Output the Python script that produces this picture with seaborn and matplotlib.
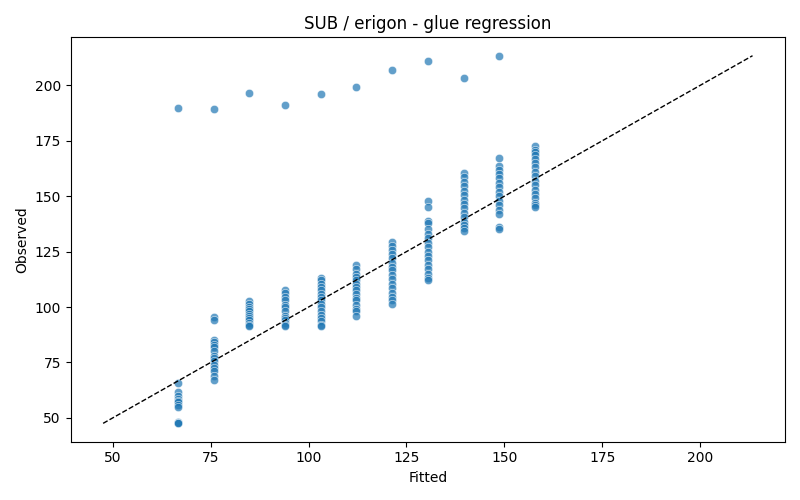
import numpy as np
import pandas as pd
import seaborn as sns
import matplotlib.pyplot as plt

# fitted levels (one column of points per level)
fitted_levels = [66.6, 75.7, 84.8, 94.0, 103.1, 112.2, 121.3, 130.5, 139.6, 148.7, 157.9]

obs_66 = [65.7, 61.5, 60.0, 58.5, 57.5, 57.0, 56.0, 55.0, 48.0, 47.5, 47.7]
obs_75 = [95.3, 94.0, 85.0, 84.0, 83.0, 82.0, 80.0, 78.0, 77.0, 75.5, 74.0, 72.5, 71.0, 69.0, 67.0]
obs_84 = [102.6, 101.5, 100.0, 99.0, 98.0, 97.0, 96.0, 95.0, 94.0, 93.0, 92.0, 91.5]
obs_94 = [107.5, 106.5, 104.5, 103.0, 101.0, 100.0, 98.0, 96.0, 95.0, 94.0, 93.0, 92.0, 91.5]
obs_103 = [113.0, 112.0, 110.5, 109.0, 107.5, 106.0, 104.5, 103.0, 101.5, 100.0, 98.0, 96.5, 95.0, 93.5, 92.0, 91.3]
obs_112 = [118.8, 117.0, 115.0, 113.5, 112.0, 110.5, 109.0, 107.5, 106.0, 104.0, 103.0, 101.0, 99.0, 98.0, 96.0]
obs_121 = [129.5, 127.5, 125.5, 124.0, 122.0, 120.0, 118.0, 116.5, 114.5, 112.5, 110.5, 108.5, 106.5, 104.5, 103.0, 101.5]
obs_130 = [148.0, 145.0, 139.0, 138.0, 135.0, 133.0, 131.0, 129.0, 127.0, 125.0, 123.0, 121.0, 119.0, 117.0, 115.0, 113.0, 112.0]
obs_139 = [160.3, 158.5, 156.5, 154.5, 152.5, 150.5, 148.5, 146.5, 144.5, 142.5, 140.5, 138.5, 137.0, 135.5, 134.5]
obs_148 = [167.2, 163.5, 162.0, 160.0, 158.0, 156.0, 154.0, 152.0, 150.0, 148.0, 146.0, 144.0, 142.0, 136.0, 135.0]
obs_157 = [172.5, 171.0, 170.0, 168.5, 167.0, 165.0, 163.0, 161.0, 159.0, 157.0, 155.0, 153.0, 151.0, 149.0, 147.0, 146.0, 145.3]

# one outlier point per column at the top
obs_outliers = [189.9, 189.2, 196.7, 191.3, 196.3, 199.4, 207.1, 211.2, 203.5, 213.4]

columns = [obs_66, obs_75, obs_84, obs_94, obs_103, obs_112, obs_121,
           obs_130, obs_139, obs_148, obs_157]

fitted, observed = [], []
for lvl, col in zip(fitted_levels, columns):
    fitted += [lvl] * len(col)
    observed += col
fitted += fitted_levels[:len(obs_outliers)]
observed += obs_outliers

df = pd.DataFrame({"Fitted": fitted, "Observed": observed})

fig, ax = plt.subplots(figsize=(8, 5), dpi=100)
sns.scatterplot(data=df, x="Fitted", y="Observed", alpha=0.7, ax=ax)

lo = min(df["Fitted"].min(), df["Observed"].min())
hi = max(df["Fitted"].max(), df["Observed"].max())
ax.plot([lo, hi], [lo, hi], "k--", lw=1)

ax.set_title("SUB / erigon - glue regression")
fig.tight_layout()
fig.savefig("out.png")
